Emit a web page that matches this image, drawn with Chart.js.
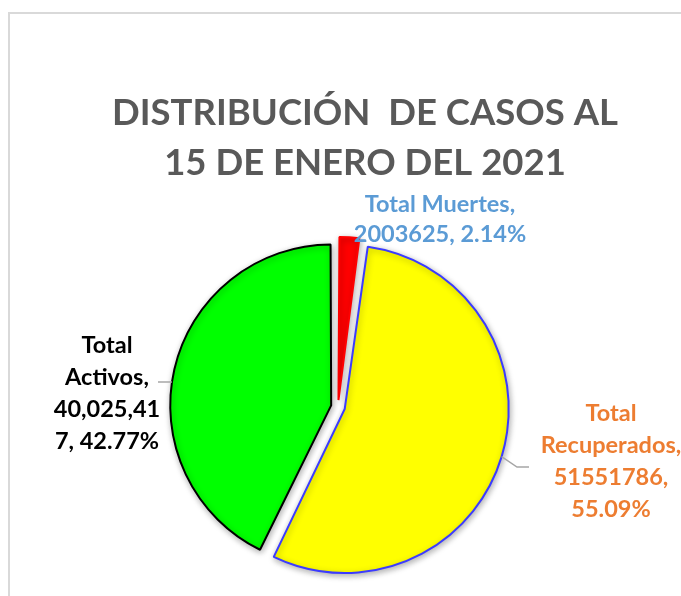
<!DOCTYPE html>
<html lang="es">
<head>
<meta charset="utf-8">
<title>Distribución de casos al 15 de enero del 2021</title>
<script src="https://cdn.jsdelivr.net/npm/chart.js@4.4.1/dist/chart.umd.min.js"></script>
<style>
  html, body { margin: 0; padding: 0; background: #fff; overflow: hidden; }
  #marco { position: absolute; left: 8px; top: 12px; width: 800px; height: 700px;
           border-top: 2px solid #d9d9d9; border-left: 2px solid #d9d9d9; }
  #grafico { position: absolute; left: 0; top: 0; }
</style>
</head>
<body>
<div id="marco"></div>
<canvas id="grafico" width="681" height="596"></canvas>
<script>
// datos del gráfico
const categorias = ['Total Muertes', 'Total Recuperados', 'Total Activos'];
const casos = [2003625, 51551786, 40025417];
const titulo = ['DISTRIBUCIÓN  DE CASOS AL', '15 DE ENERO DEL 2021'];
// etiquetas tal como las corta Excel
const lineasEtiquetas = [
    ['Total Muertes,', '2003625, 2.14%'],
    ['Total', 'Recuperados,', '51551786,', '55.09%'],
    ['Total', 'Activos,', '40,025,41', '7, 42.77%']
];
const colores = ['#ff0000', '#ffff00', '#00ff00'];
const bordes = ['#ff0000', '#3b3bff', '#000000'];
const coloresEtiquetas = ['#5b9bd5', '#ed7d31', '#000000'];

const FUENTE = 'Lato, "Open Sans", sans-serif';

// centro y radio reales de un sector desplazado
function geometriaArco(arco) {
    const off = (arco.options.offset || 0) / 4;
    const mid = (arco.startAngle + arco.endAngle) / 2;
    const fix = 1 - Math.sin(Math.min(Math.PI, arco.circumference));
    return {
        cx: arco.x + Math.cos(mid) * off,
        cy: arco.y + Math.sin(mid) * off,
        r: arco.outerRadius + off * fix,
        mid: mid
    };
}

const sombra = {
    id: 'sombra',
    beforeDatasetDraw(chart) {
        const ctx = chart.ctx;
        ctx.save();
        ctx.shadowColor = 'rgba(0,0,0,0.3)';
        ctx.shadowBlur = 6;
        ctx.shadowOffsetX = 1;
        ctx.shadowOffsetY = 2;
    },
    afterDatasetDraw(chart) {
        chart.ctx.restore();
    }
};

const textos = {
    id: 'textos',
    afterDraw(chart) {
        const ctx = chart.ctx;
        const arcos = chart.getDatasetMeta(0).data;
        ctx.save();

        // título
        ctx.fillStyle = '#595959';
        ctx.font = 'bold 36.5px ' + FUENTE;
        ctx.textAlign = 'center';
        ctx.textBaseline = 'middle';
        titulo.forEach((t, i) => ctx.fillText(t, 365, 113 + i * 50));

        // líneas guía
        ctx.strokeStyle = '#a6a6a6';
        ctx.lineWidth = 1.5;
        const gRec = geometriaArco(arcos[1]);
        ctx.beginPath();
        ctx.moveTo(gRec.cx + Math.cos(gRec.mid) * gRec.r, gRec.cy + Math.sin(gRec.mid) * gRec.r);
        ctx.lineTo(517, 467);
        ctx.lineTo(529, 467);
        ctx.stroke();

        const gAct = geometriaArco(arcos[2]);
        const yAct = 382;
        const xAct = gAct.cx - Math.sqrt(gAct.r * gAct.r - (yAct - gAct.cy) * (yAct - gAct.cy));
        ctx.beginPath();
        ctx.moveTo(158, yAct);
        ctx.lineTo(xAct, yAct);
        ctx.stroke();

        // etiquetas de datos
        const pos = [
            { x: 440, y: 204, lh: 30 },
            { x: 611, y: 413, lh: 32 },
            { x: 107, y: 345, lh: 32 }
        ];
        ctx.font = 'bold 23.5px ' + FUENTE;
        lineasEtiquetas.forEach((lineas, i) => {
            ctx.fillStyle = coloresEtiquetas[i];
            lineas.forEach((l, j) => ctx.fillText(l, pos[i].x, pos[i].y + j * pos[i].lh));
        });
        ctx.restore();
    }
};

new Chart(document.getElementById('grafico'), {
    type: 'pie',
    data: {
        labels: categorias,
        datasets: [{
            data: casos,
            backgroundColor: colores,
            borderColor: bordes,
            borderWidth: 2,
            offset: 28
        }]
    },
    options: {
        responsive: false,
        animation: false,
        events: [],
        radius: 157,
        layout: {
            padding: { left: 0, right: 5, top: 218, bottom: 0 }
        },
        plugins: {
            legend: { display: false },
            tooltip: { enabled: false }
        }
    },
    plugins: [sombra, textos]
});
</script>
</body>
</html>
